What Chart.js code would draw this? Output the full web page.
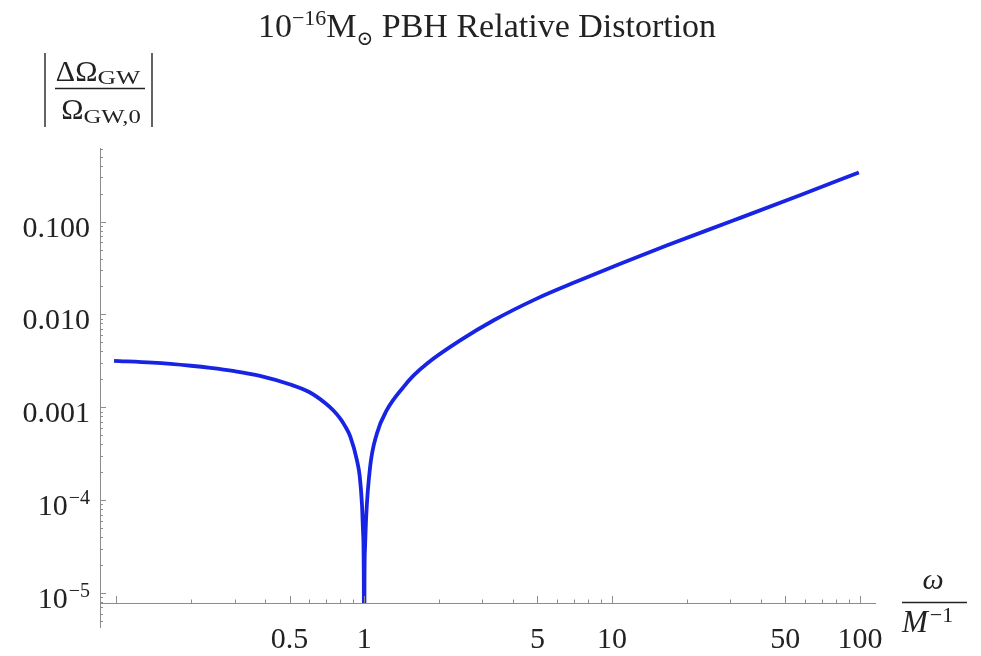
<!DOCTYPE html>
<html><head><meta charset="utf-8">
<script src="https://cdn.jsdelivr.net/npm/chart.js@4/dist/chart.umd.min.js"></script>
<style>html,body{margin:0;padding:0;background:#fff}canvas{display:block}</style>
</head><body>
<canvas id="c" width="981" height="656"></canvas>
<script>
// ---- data ----
const omega = [0.098, 0.14, 0.2, 0.24, 0.3, 0.38, 0.5, 0.6, 0.7, 0.75, 0.8, 0.84, 0.88, 0.935, 0.96, 0.98, 0.99, 0.997, 1.0,
               1.003, 1.008, 1.019, 1.057, 1.125, 1.234, 1.44, 1.58, 1.79, 2.44, 3.32, 4.97, 7.2, 10.8, 16.6, 30.8, 57.3, 99];
const distortion = [0.00316, 0.00302, 0.0028, 0.00266, 0.00245, 0.00218, 0.00177, 0.00146, 0.0011, 0.00093, 0.00076, 0.00062, 0.00048, 0.00027, 0.00018, 0.00009, 0.000045, 0.0000135, 0.0000001,
               0.000012, 0.00003, 0.000066, 0.000228, 0.00052, 0.00093, 0.00165, 0.00219, 0.00295, 0.00525, 0.0086, 0.0148, 0.0226, 0.0352, 0.0553, 0.1026, 0.192, 0.338];
const xTickValues = [0.5, 1, 5, 10, 50, 100];
const xTickLabels = ['0.5', '1', '5', '10', '50', '100'];
const xMajorUnlabeled = [0.1];
const yTickValues = [1e-5, 1e-4, 1e-3, 1e-2, 1e-1];
const yTickMain = ['10', '10', '0.001', '0.010', '0.100'];
const yTickSup = ['\u22125', '\u22124', '', '', ''];
const xRange = [0.086, 115];
const yRange = [7.8e-6, 0.62];
const yAxisLowEnd = 4.2e-6;

const SERIF = '"Liberation Serif", "DejaVu Serif", serif';
const AXIS = '#8c8c8c';
const INK = '#222';

function minorValues(lo, hi) {
  const out = [];
  for (let e = -7; e <= 3; e++) {
    for (let m = 1; m <= 9; m++) {
      const v = m * Math.pow(10, e);
      if (v >= lo && v <= hi) out.push({v, major: m === 1});
    }
  }
  return out;
}

const decor = {
  id: 'decor',
  afterDraw(chart) {
    const {ctx, chartArea: a, scales: {x, y}} = chart;
    ctx.save();
    ctx.strokeStyle = AXIS;
    ctx.lineWidth = 1;
    // y axis extension below the x axis
    const yLow = Math.round(y.getPixelForValue(yAxisLowEnd));
    ctx.beginPath();
    ctx.moveTo(a.left + 0.5, a.bottom); ctx.lineTo(a.left + 0.5, yLow);
    ctx.stroke();
    // y ticks (inward)
    minorValues(yAxisLowEnd, yRange[1]).forEach(t => {
      const py = Math.round(y.getPixelForValue(t.v)) + 0.5;
      ctx.beginPath(); ctx.moveTo(a.left, py); ctx.lineTo(a.left + (t.major ? 6 : 3), py); ctx.stroke();
    });
    // x ticks (inward)
    const majorsX = xTickValues.concat(xMajorUnlabeled);
    minorValues(0.1, 100).forEach(t => {
      const px = Math.round(x.getPixelForValue(t.v)) + 0.5;
      const big = majorsX.some(m => Math.abs(m - t.v) / t.v < 1e-9);
      ctx.beginPath(); ctx.moveTo(px, a.bottom); ctx.lineTo(px, a.bottom - (big ? 7 : 3.5)); ctx.stroke();
    });

    // y tick labels (with real superscripts), positioned by the y scale
    ctx.fillStyle = INK;
    ctx.textBaseline = 'alphabetic';
    yTickValues.forEach((v, i) => {
      const base = y.getPixelForValue(v) + 15;
      const right = a.left - 10;
      ctx.font = '20px ' + SERIF;
      const sw = yTickSup[i] ? ctx.measureText(yTickSup[i]).width : 0;
      ctx.font = '30px ' + SERIF;
      const mw = ctx.measureText(yTickMain[i]).width;
      ctx.fillText(yTickMain[i], right - sw - mw - (sw ? 1 : 0), base);
      if (sw) { ctx.font = '20px ' + SERIF; ctx.fillText(yTickSup[i], right - sw, base - 11); }
    });
    ctx.restore();

    // ---- title ----
    ctx.save();
    ctx.fillStyle = INK;
    ctx.textBaseline = 'alphabetic';
    const parts = [
      {t: '10', f: 34, dy: 0},
      {t: '\u221216', f: 22, dy: -12},
      {t: 'M', f: 34, dy: 0},
      {t: '\u2299', f: 20, dy: 8},
      {t: ' PBH Relative Distortion', f: 34, dy: 0}
    ];
    let w = 0;
    parts.forEach(p => { ctx.font = p.f + 'px ' + SERIF; p.w = ctx.measureText(p.t).width; w += p.w; });
    let cx = 487 - w / 2;
    parts.forEach(p => { ctx.font = p.f + 'px ' + SERIF; ctx.fillText(p.t, cx, 37 + p.dy); cx += p.w; });

    // ---- y axis label |ΔΩ_GW / Ω_GW,0| ----
    function drawSub(main, sub, centerX, base, mf, sf, sdy, sx) {
      ctx.font = mf + 'px ' + SERIF; const w1 = ctx.measureText(main).width;
      ctx.font = sf + 'px ' + SERIF; const w2 = ctx.measureText(sub).width * sx;
      let x0 = centerX - (w1 + w2) / 2;
      ctx.font = mf + 'px ' + SERIF; ctx.fillText(main, x0, base);
      ctx.save();
      ctx.translate(x0 + w1, base + sdy);
      ctx.scale(sx, 1);
      ctx.font = sf + 'px ' + SERIF; ctx.fillText(sub, 0, 0);
      ctx.restore();
    }
    drawSub('\u0394\u03A9', 'GW', 98, 81, 30, 19, 3, 1.35);
    drawSub('\u03A9', 'GW,0', 101, 119, 30, 19, 4, 1.3);
    ctx.strokeStyle = INK;
    ctx.lineWidth = 1.3;
    ctx.beginPath(); ctx.moveTo(55, 88.5); ctx.lineTo(145, 88.5); ctx.stroke();
    ctx.lineWidth = 1.4;
    ctx.beginPath(); ctx.moveTo(45, 53); ctx.lineTo(45, 127); ctx.stroke();
    ctx.beginPath(); ctx.moveTo(152, 53); ctx.lineTo(152, 127); ctx.stroke();

    // ---- x axis label ω / M^-1 ----
    ctx.font = 'italic 30px ' + SERIF;
    ctx.textAlign = 'center';
    ctx.fillText('\u03C9', 933, 589);
    ctx.textAlign = 'left';
    ctx.lineWidth = 1.3;
    ctx.beginPath(); ctx.moveTo(902, 602.5); ctx.lineTo(967, 602.5); ctx.stroke();
    ctx.font = 'italic 31px ' + SERIF;
    const mw = ctx.measureText('M').width;
    ctx.fillText('M', 902, 632);
    ctx.font = '22px ' + SERIF;
    ctx.fillText('\u22121', 902 + mw + 2, 622);
    ctx.restore();
  }
};

new Chart(document.getElementById('c'), {
  type: 'line',
  data: {
    datasets: [{
      data: omega.map((w, i) => ({x: w, y: distortion[i]})),
      borderColor: 'rgb(24,36,228)',
      borderWidth: 3.8,
      pointRadius: 0,
      fill: false,
      cubicInterpolationMode: 'monotone',
      borderCapStyle: 'butt'
    }]
  },
  options: {
    responsive: false,
    animation: false,
    devicePixelRatio: 1,
    layout: {padding: {top: 148, right: 106, left: 0, bottom: 0}},
    plugins: {legend: {display: false}, tooltip: {enabled: false}, title: {display: false}},
    scales: {
      x: {
        type: 'logarithmic',
        min: xRange[0], max: xRange[1],
        afterBuildTicks: s => { s.ticks = xTickValues.map(v => ({value: v})); },
        afterFit: s => { s.height = 53; },
        grid: {display: false, drawTicks: false},
        border: {display: true, color: AXIS, width: 1},
        ticks: {
          autoSkip: false, maxRotation: 0, padding: 19, color: INK,
          font: {family: SERIF, size: 30},
          callback: (v, i) => xTickLabels[i]
        }
      },
      y: {
        type: 'logarithmic',
        min: yRange[0], max: yRange[1],
        afterBuildTicks: s => { s.ticks = yTickValues.map(v => ({value: v})); },
        afterFit: s => { s.width = 100; },
        grid: {display: false, drawTicks: false},
        border: {display: true, color: AXIS, width: 1},
        ticks: {display: false}
      }
    }
  },
  plugins: [decor]
});
</script>
</body></html>
